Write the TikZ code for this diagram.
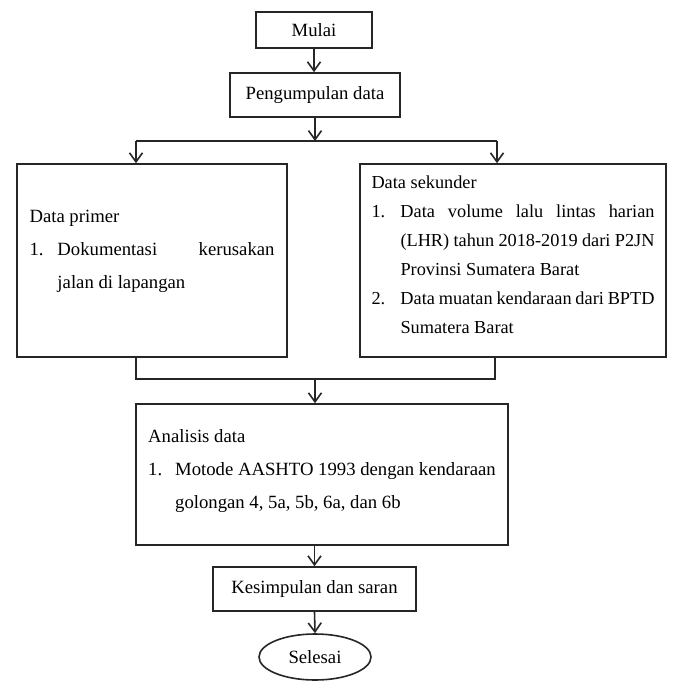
\documentclass[tikz,border=0pt]{standalone}
\usepackage{fontspec}
\setmainfont{Liberation Serif}
\usetikzlibrary{arrows.meta,shapes.geometric}
\hbadness=10000
\hfuzz=20pt
\newcommand{\ftxt}[1]{\fontsize{18.7}{#1}\selectfont}
\newcommand{\jbox}[2]{\hbox to #1{\spaceskip=0.25em plus 1fil minus 0.15em\relax#2}}
\newcommand{\lab}[2]{\hbox to #1{#2\hfil}}
\begin{document}
\begin{tikzpicture}[x=1pt,y=-1pt,
  box/.style={draw=black!85, line width=1.6pt, inner sep=0pt, font=\ftxt{22}},
  conn/.style={draw=black!85, line width=1.6pt},
  arr/.style={conn, -{Straight Barb[length=9pt,width=13pt,line width=1.6pt]}}]
\useasboundingbox (0,0) rectangle (672,682);
\fill[white] (0,0) rectangle (672,682);

\node[box, minimum width=116pt, minimum height=36pt] (mulai) at (314,30) {Mulai};
\node[box, minimum width=170pt, minimum height=44pt] (peng) at (315,95) {Pengumpulan data};

\node[box, minimum width=270pt, minimum height=193pt] (prim) at (152,260.5) {\parbox{245pt}{\ftxt{33}%
\hbox{Data primer}
\hbox{\lab{28pt}{1.}\jbox{217pt}{Dokumentasi kerusakan}}
\hbox{\hskip28pt jalan di lapangan}
\vspace*{18pt}}};

\node[box, minimum width=306pt, minimum height=193pt] (sek) at (513,260.5) {\parbox{283pt}{\fontsize{18.3}{29}\selectfont
\hbox{Data sekunder}
\hbox{\lab{29pt}{1.}\jbox{254pt}{Data volume lalu lintas harian}}
\hbox{\hskip29pt\jbox{254pt}{(LHR) tahun 2018-2019 dari P2JN}}
\hbox{\hskip29pt Provinsi Sumatera Barat}
\hbox{\lab{29pt}{2.}\jbox{254pt}{Data muatan kendaraan dari BPTD}}
\hbox{\hskip29pt Sumatera Barat}
\vspace*{11pt}}};

\node[box, minimum width=372pt, minimum height=141pt] (anal) at (322,474.5) {\parbox{349pt}{\ftxt{33}%
\hbox{Analisis data}
\hbox{\lab{27pt}{1.}Motode AASHTO 1993 dengan kendaraan}
\hbox{\hskip27pt golongan 4, 5a, 5b, 6a, dan 6b}
\vspace*{6pt}}};

\node[box, minimum width=203pt, minimum height=44pt] (kes) at (314.5,589) {Kesimpulan dan saran};
\node[box, ellipse, minimum width=112pt, minimum height=46pt] (sel) at (315,657) {Selesai};

\coordinate (j1) at (315,141);
\coordinate (jl) at (136,141);
\coordinate (jr) at (497,141);
\coordinate (bl) at (136,379);
\coordinate (br) at (495,379);
\coordinate (j2) at (315,379);

\draw[arr] (mulai.south) -- (peng.north -| mulai.south);
\draw[arr] (peng.south) -- (j1);
\draw[conn] (jl) -- (jr);
\draw[arr] (jl) -- (prim.north -| jl);
\draw[arr] (jr) -- (sek.north -| jr);
\draw[conn] (prim.south -| bl) -- (bl) -- (br) -- (sek.south -| br);
\draw[arr] (j2) -- (anal.north -| j2);
\draw[arr] (anal.south -| kes.north) -- (kes.north);
\draw[arr] (kes.south) -- (sel.north);
\end{tikzpicture}
\end{document}
